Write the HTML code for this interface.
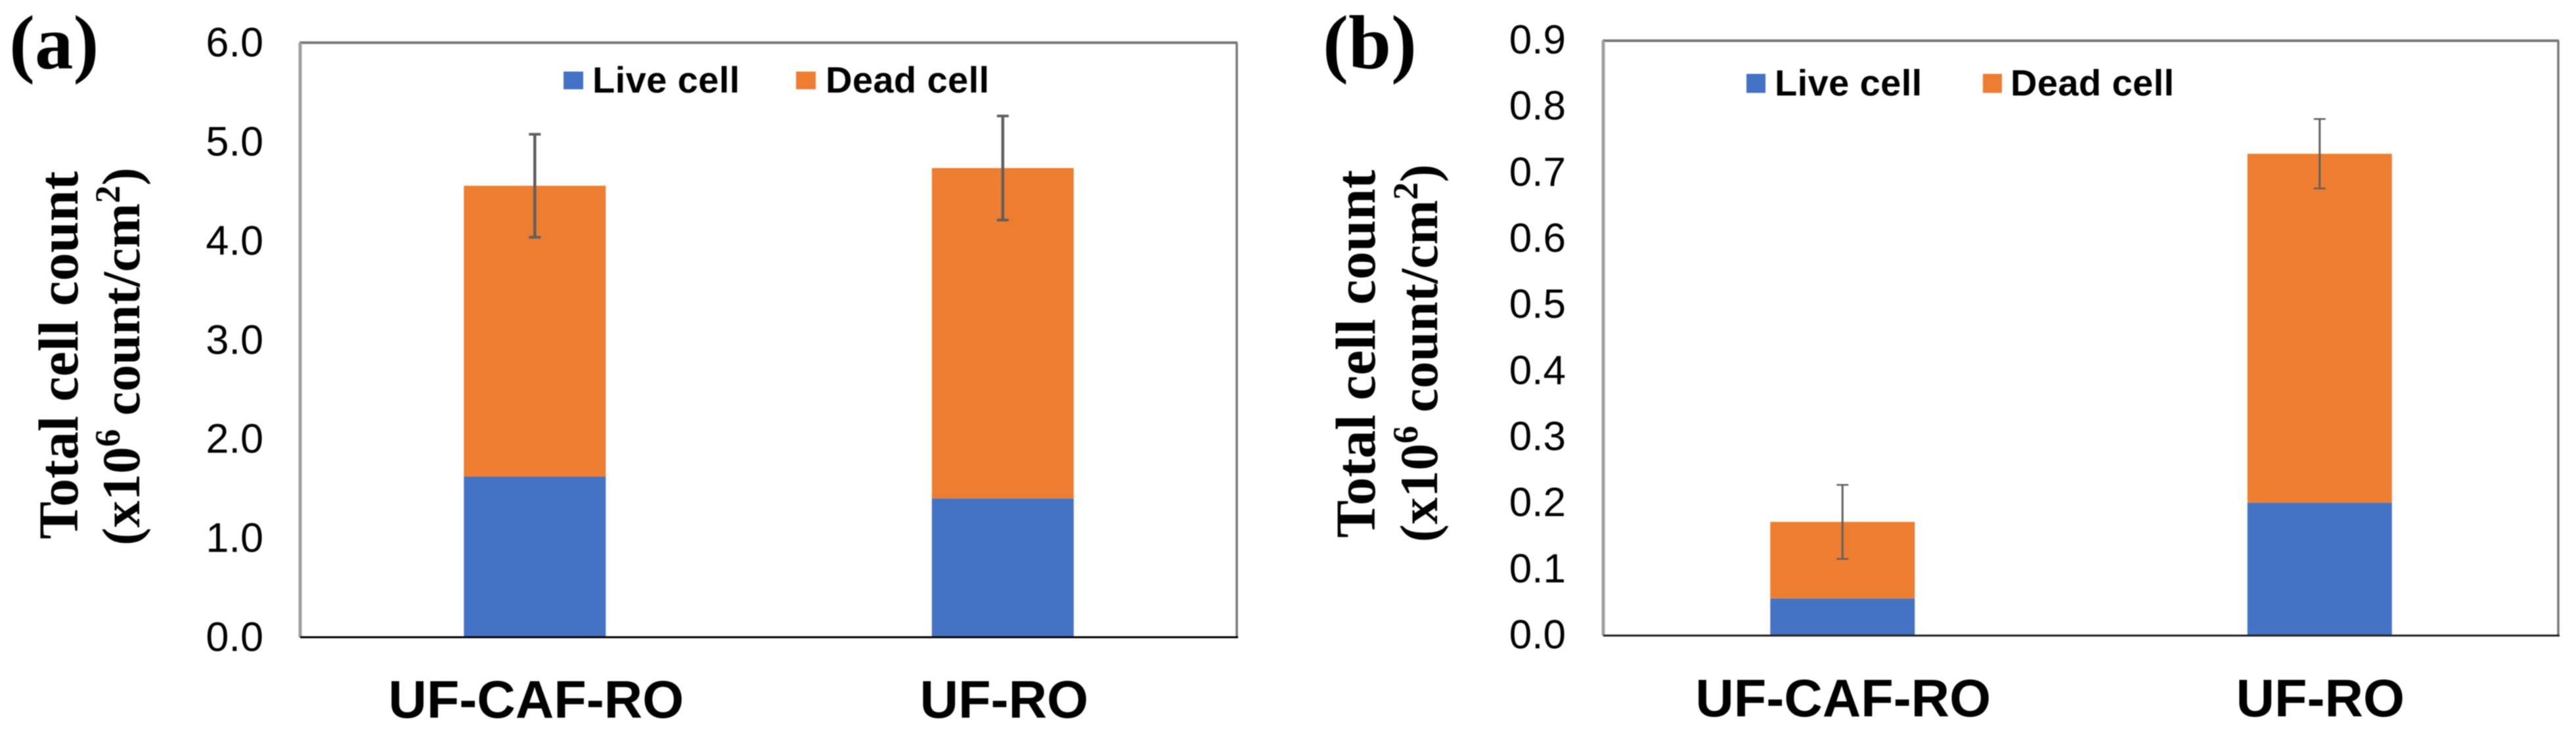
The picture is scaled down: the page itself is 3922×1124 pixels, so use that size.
<!DOCTYPE html>
<html lang="en">
<head>
<meta charset="utf-8">
<title>Total cell count by process</title>
<style>
html,body{margin:0;padding:0;background:#fff;width:3922px;height:1124px;overflow:hidden}
svg{display:block;filter:blur(0.8px)}
.serif{font-family:"Liberation Serif",serif;font-weight:bold;fill:#000}
.sans{font-family:"Liberation Sans",sans-serif;fill:#000}
</style>
</head>
<body>
<svg id="chart" xmlns="http://www.w3.org/2000/svg" width="3922" height="1124" viewBox="0 0 3922 1124">
  <rect x="0" y="0" width="3922" height="1124" fill="#fff"/>
  <text class="serif" x="14" y="104" font-size="117">(a)</text>
  <text class="serif" x="2014" y="104" font-size="117">(b)</text>
  <text class="serif" font-size="86" text-anchor="middle" transform="translate(118 541) rotate(-90)">Total cell count</text>
  <text class="serif" font-size="82" text-anchor="middle" transform="translate(212 543) rotate(-90)">(x10<tspan dy="-30" font-size="54">6</tspan><tspan dy="30"> count/cm</tspan><tspan dy="-30" font-size="54">2</tspan><tspan dy="30">)</tspan></text>
  <text class="serif" font-size="86" text-anchor="middle" transform="translate(2093 539) rotate(-90)">Total cell count</text>
  <text class="serif" font-size="82" text-anchor="middle" transform="translate(2188 538) rotate(-90)">(x10<tspan dy="-30" font-size="54">6</tspan><tspan dy="30"> count/cm</tspan><tspan dy="-30" font-size="54">2</tspan><tspan dy="30">)</tspan></text>
</svg>
<script>
const categories = ['UF-CAF-RO', 'UF-RO'];
const seriesNames = ['Live cell', 'Dead cell'];

const ticksA = ['0.0', '1.0', '2.0', '3.0', '4.0', '5.0', '6.0'];
const liveA = [1.62, 1.40];
const deadA = [2.936, 3.335];
const errorA = [0.52, 0.525];

const ticksB = ['0.0', '0.1', '0.2', '0.3', '0.4', '0.5', '0.6', '0.7', '0.8', '0.9'];
const liveB = [0.056, 0.201];
const deadB = [0.116, 0.528];
const errorB = [0.056, 0.0525];

const NS = 'http://www.w3.org/2000/svg';
const root = document.getElementById('chart');

function make(tag, attrs, parent) {
  const el = document.createElementNS(NS, tag);
  for (const k in attrs) el.setAttribute(k, attrs[k]);
  (parent || root).appendChild(el);
  return el;
}

function drawPanel(id, ticks, live, dead, error, L) {
  const maxV = parseFloat(ticks[ticks.length - 1]);
  const yScale = v => L.bottom - (v / maxV) * (L.bottom - L.top);
  const xCenter = i => L.left + (L.right - L.left) * (i + 0.5) / categories.length;

  const group = make('g', {});
  
  

  const frameTop = make('line', {x1: L.left - 2, x2: L.right + 1, y1: L.top, y2: L.top, stroke: '#777', 'stroke-width': 4}, group);
  
  
  const frameLeft = make('line', {x1: L.left - 1, x2: L.left - 1, y1: L.top, y2: L.bottom, stroke: '#a0a0a0', 'stroke-width': 5}, group);
  
  
  const frameRight = make('line', {x1: L.right, x2: L.right, y1: L.top, y2: L.bottom, stroke: '#777', 'stroke-width': 3.5}, group);
  
  

  ticks.forEach(t => {
    const label = make('text', {x: L.tickX, y: yScale(parseFloat(t)) + L.tickDy, 'text-anchor': 'end', 'font-size': L.tickSize, class: 'sans'}, group);
    label.textContent = t;
    
    
  });

  categories.forEach((c, i) => {
    const cx = xCenter(i);
    const liveBar = make('rect', {x: cx - L.barW / 2, width: L.barW, y: yScale(live[i]), height: yScale(0) - yScale(live[i]), fill: '#4472c4'}, group);
    
    

    const total = live[i] + dead[i];
    const deadBar = make('rect', {x: cx - L.barW / 2, width: L.barW, y: yScale(total), height: yScale(live[i]) - yScale(total), fill: '#ed7d31'}, group);
    
    

    const yHi = yScale(total + error[i]);
    const yLo = yScale(total - error[i]);
    const stem = make('line', {x1: cx, x2: cx, y1: yHi, y2: yLo, stroke: '#5f5f5f', 'stroke-width': L.errW}, group);
    
    
    const capHi = make('line', {x1: cx - 9, x2: cx + 9, y1: yHi, y2: yHi, stroke: '#5f5f5f', 'stroke-width': L.errW - 0.5}, group);
    
    
    const capLo = make('line', {x1: cx - 9, x2: cx + 9, y1: yLo, y2: yLo, stroke: '#5f5f5f', 'stroke-width': L.errW - 0.5}, group);
    
    

    const catLabel = make('text', {x: cx + L.catDx, y: L.catY, 'text-anchor': 'middle', 'font-size': L.catSize, 'font-weight': 'bold', class: 'sans'}, group);
    catLabel.textContent = c;
    
    
  });

  const axis = make('line', {x1: L.left - 1, x2: L.right + 2, y1: L.bottom, y2: L.bottom, stroke: L.axisColor, 'stroke-width': 3}, group);
  
  

  seriesNames.forEach((s, i) => {
    const swatch = make('rect', {x: L.swatchX[i], y: L.swatchY, width: L.swatchW, height: L.swatchH, fill: i === 0 ? '#4472c4' : '#ed7d31'}, group);
    
    
    const text = make('text', {x: L.legendX[i], y: L.legendY, 'font-size': 56, 'font-weight': 'bold', 'letter-spacing': 0.4, class: 'sans'}, group);
    text.textContent = s;
    
    
  });
}

drawPanel('a', ticksA, liveA, deadA, errorA, {
  left: 458, right: 1883, top: 65, bottom: 970.5, barW: 216, errW: 4.5,
  tickX: 401, tickDy: 21, tickSize: 63, catY: 1093, catSize: 81, catDx: 2, axisColor: '#000',
  swatchX: [858, 1212], swatchY: 109, swatchW: 30, swatchH: 27,
  legendX: [902, 1257], legendY: 141
});

drawPanel('b', ticksB, liveB, deadB, errorB, {
  left: 2442, right: 3895, top: 62, bottom: 968, barW: 220, errW: 3,
  tickX: 2384, tickDy: 19.5, tickSize: 62, catY: 1091, catSize: 81, catDx: 1, axisColor: '#222',
  swatchX: [2659, 3019], swatchY: 112.5, swatchW: 29, swatchH: 29,
  legendX: [2702, 3061], legendY: 145.5
});
</script>
</body>
</html>
